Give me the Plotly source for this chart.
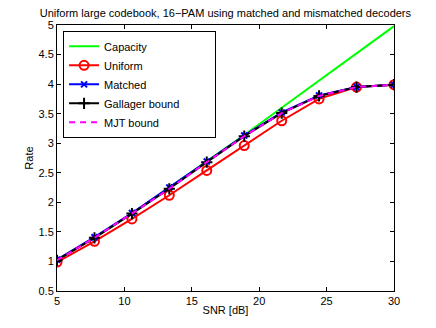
import plotly.graph_objects as go

# SNR grid (dB) and rates
snr_db = [5, 7.78, 10.56, 13.33, 16.11, 18.89, 21.67, 24.44, 27.22, 30]
capacity = [1.03, 1.40, 1.81, 2.25, 2.69, 3.14, 3.60, 4.06, 4.52, 4.98]
uniform = [0.99, 1.34, 1.72, 2.12, 2.54, 2.96, 3.38, 3.75, 3.95, 3.99]
matched = [1.03, 1.41, 1.82, 2.25, 2.69, 3.13, 3.52, 3.81, 3.95, 3.99]
gallager = [1.02, 1.40, 1.81, 2.23, 2.68, 3.12, 3.51, 3.80, 3.95, 3.99]
mjt = [1.02, 1.40, 1.81, 2.23, 2.68, 3.12, 3.51, 3.80, 3.95, 3.99]

font = "Liberation Sans, Arial, sans-serif"

fig = go.Figure()
fig.add_trace(go.Scatter(x=snr_db, y=capacity, name="Capacity", mode="lines",
                         line=dict(color="#00ff00", width=2)))
fig.add_trace(go.Scatter(x=snr_db, y=uniform, name="Uniform", mode="lines+markers",
                         line=dict(color="#ff0000", width=2),
                         marker=dict(symbol="circle-open", size=9, color="#ff0000",
                                     line=dict(width=2, color="#ff0000"))))
fig.add_trace(go.Scatter(x=snr_db, y=matched, name="Matched", mode="lines+markers",
                         line=dict(color="#0000ff", width=2),
                         marker=dict(symbol="x-thin", size=6, color="#0000ff",
                                     line=dict(width=2, color="#0000ff"))))
# trailing no-break spaces just pad the legend box out to the reference width
fig.add_trace(go.Scatter(x=snr_db, y=gallager, name="Gallager bound" + "\u00a0" * 10,
                         mode="lines+markers",
                         line=dict(color="#000000", width=2),
                         marker=dict(symbol="cross-thin", size=8, color="#000000",
                                     line=dict(width=2, color="#000000"))))
fig.add_trace(go.Scatter(x=snr_db, y=mjt, name="MJT bound", mode="lines",
                         line=dict(color="#ff00ff", width=2, dash="6px,5px")))

axis_common = dict(showline=True, linecolor="#000000", linewidth=1, mirror="allticks",
                   ticks="inside", ticklen=4, tickcolor="#000000", showgrid=False,
                   zeroline=False, tickfont=dict(family=font, size=11, color="#000000"))

fig.update_layout(
    width=436, height=328,
    margin=dict(l=57, r=42, t=25, b=37),
    paper_bgcolor="white", plot_bgcolor="white",
    font=dict(family=font, size=11, color="#000000"),
    title=dict(text="Uniform large codebook, 16\u2212PAM using matched and mismatched decoders",
               x=0.517, xanchor="center", y=0.960, yanchor="middle",
               font=dict(family=font, size=11, color="#000000")),
    xaxis=dict(range=[5, 30], tickvals=[5, 10, 15, 20, 25, 30],
               title=dict(text="SNR [dB]", standoff=0, font=dict(family=font, size=11)),
               **axis_common),
    yaxis=dict(range=[0.5, 5], tickvals=[0.5, 1, 1.5, 2, 2.5, 3, 3.5, 4, 4.5, 5],
               title=dict(text="Rate", standoff=2, font=dict(family=font, size=11)),
               **axis_common),
    legend=dict(x=0.018, y=0.978, xanchor="left", yanchor="top",
                bgcolor="white", bordercolor="#000000", borderwidth=1,
                font=dict(family=font, size=11), tracegroupgap=0,
                itemwidth=30),
    showlegend=True,
)

# drop the default page margin so the figure sits at the window origin
fig.write_html("out.html", config={"displayModeBar": False},
               post_script="document.body.style.margin='0';")
